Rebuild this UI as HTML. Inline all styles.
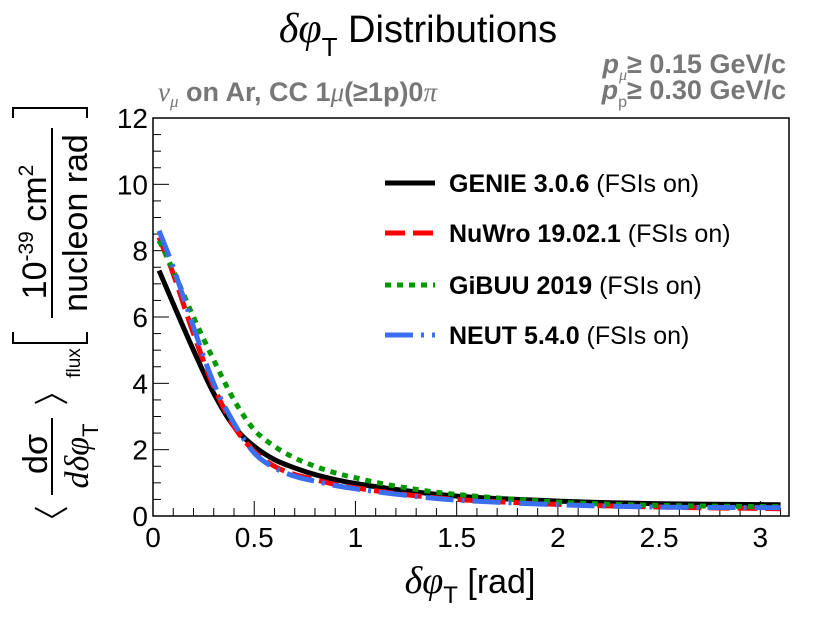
<!DOCTYPE html>
<html><head><meta charset="utf-8"><style>
body{margin:0;background:#fff}
svg{display:block;font-family:"Liberation Sans",sans-serif}
</style></head><body>
<svg id="c" width="830" height="620" viewBox="0 0 830 620">
<text x="418" y="42" text-anchor="middle" font-size="38"><tspan font-family="Liberation Serif" font-style="italic" font-size="42">δφ</tspan><tspan font-size="26" dy="14">T</tspan><tspan dy="-14"> Distributions</tspan></text>
<text x="158" y="101" font-size="27" font-weight="bold" fill="#777"><tspan font-family="Liberation Serif" font-style="italic" font-weight="normal">ν</tspan><tspan font-size="17" dy="6" font-family="Liberation Serif" font-style="italic" font-weight="normal">μ</tspan><tspan dy="-6"> on Ar, CC 1</tspan><tspan font-family="Liberation Serif" font-style="italic" font-weight="normal">μ</tspan><tspan>(≥1p)0</tspan><tspan font-family="Liberation Serif" font-style="italic" font-weight="normal">π</tspan></text>
<text x="786" y="73" text-anchor="end" font-size="27" font-weight="bold" fill="#777"><tspan font-style="italic">p</tspan><tspan font-size="16" dy="7" font-family="Liberation Serif" font-style="italic" font-weight="normal">μ</tspan><tspan dy="-7">≥ 0.15 GeV/c</tspan></text>
<text x="786" y="99" text-anchor="end" font-size="27" font-weight="bold" fill="#777"><tspan font-style="italic">p</tspan><tspan font-size="16" dy="8" font-weight="normal">p</tspan><tspan dy="-8">≥ 0.30 GeV/c</tspan></text>
<g id="axes"></g>
<g id="series"></g>
<g>
<polyline points="35,508 52,517 67,508" fill="none" stroke="#000" stroke-width="2"/>
<polyline points="35,403 52,395 67,403" fill="none" stroke="#000" stroke-width="2"/>
<line x1="52" y1="418" x2="52" y2="495" stroke="#000" stroke-width="2"/>
<polyline points="13,332 13,343 87,343 87,332" fill="none" stroke="#000" stroke-width="2"/>
<polyline points="13,118 13,108 87,108 87,118" fill="none" stroke="#000" stroke-width="2"/>
<line x1="52" y1="128" x2="52" y2="318" stroke="#000" stroke-width="2"/>
<g transform="rotate(-90)" font-size="34">
<text x="-454" y="47" text-anchor="middle">dσ</text>
<text x="-456" y="88" text-anchor="middle"><tspan font-family="Liberation Serif" font-style="italic">dδφ</tspan><tspan font-size="22" dy="10">T</tspan></text>
<text x="-363" y="80" text-anchor="middle" font-size="19">flux</text>
<text x="-232" y="46" text-anchor="middle">10<tspan font-size="21" dy="-13">-39</tspan><tspan dy="13"> cm</tspan><tspan font-size="21" dy="-13">2</tspan></text>
<text x="-223" y="87" text-anchor="middle">nucleon rad</text>
</g>
</g>
<text x="470" y="593" text-anchor="middle" font-size="34"><tspan font-family="Liberation Serif" font-style="italic" font-size="38">δφ</tspan><tspan font-size="24" dy="10">T</tspan><tspan dy="-10"> [rad]</tspan></text>
<g id="legend"></g>
</svg>
<script>
const xCats=[0.03,0.1,0.2,0.3,0.4,0.5,0.6,0.7,0.8,0.9,1.0,1.2,1.5,2.0,2.5,3.1];
const genie=[7.4,6.4,5.0,3.7,2.7,2.1,1.7,1.45,1.25,1.1,0.98,0.8,0.6,0.45,0.37,0.34];
const nuwro=[8.4,7.3,5.5,3.9,2.7,1.95,1.5,1.25,1.1,0.95,0.85,0.68,0.5,0.35,0.27,0.22];
const gibuu=[8.3,7.4,6.0,4.7,3.5,2.6,2.1,1.75,1.5,1.3,1.15,0.9,0.65,0.42,0.32,0.28];
const neut=[8.6,7.5,5.7,4.0,2.8,1.9,1.45,1.2,1.05,0.92,0.82,0.66,0.48,0.34,0.27,0.25];
const xTicks=[0,0.5,1,1.5,2,2.5,3];
const xTickLabels=["0","0.5","1","1.5","2","2.5","3"];
const yTicks=[0,2,4,6,8,10,12];
const yTickLabels=["0","2","4","6","8","10","12"];
const seriesNames=["GENIE 3.0.6","NuWro 19.02.1","GiBUU 2019","NEUT 5.4.0"];
const X0=153,X1=789,Y0=516,Y1=118,XMAX=Math.PI,YMAX=12;
const sx=v=>X0+v/XMAX*(X1-X0), sy=v=>Y0-v/YMAX*(Y0-Y1);
const NS="http://www.w3.org/2000/svg";
function mk(t,a,p){const e=document.createElementNS(NS,t);for(const k in a)e.setAttribute(k,a[k]);p.appendChild(e);return e;}
const ax=document.getElementById('axes');
const fr=mk('rect',{x:X0,y:Y1,width:X1-X0,height:Y0-Y1,fill:'none',stroke:'#000','stroke-width':1.5},ax);


for(let v=0;v<=XMAX;v+=0.1){const big=Math.abs(v/0.5-Math.round(v/0.5))<1e-6;mk('line',{x1:sx(v),x2:sx(v),y1:Y0,y2:Y0-(big?15:8),stroke:'#000','stroke-width':1},ax);}
for(let v=0;v<=12.001;v+=0.5){const big=Math.abs(v/2-Math.round(v/2))<1e-6;mk('line',{x1:X0,x2:X0+(big?16:8),y1:sy(v),y2:sy(v),stroke:'#000','stroke-width':1},ax);}
xTicks.forEach((v,i)=>{const t=mk('text',{x:sx(v),y:Y0+31,'text-anchor':'middle','font-size':28},ax);t.textContent=xTickLabels[i];

});
yTicks.forEach((v,i)=>{const t=mk('text',{x:X0-5,y:sy(v)+10,'text-anchor':'end','font-size':28},ax);t.textContent=yTickLabels[i];

});
const styles=[{c:'#000',d:'',w:5},{c:'#f00',d:'20,8',w:5},{c:'#090',d:'6,6',w:5},{c:'#3a6ff0',d:'28,8,3,8',w:5}];
const data=[genie,nuwro,gibuu,neut];
const sg=document.getElementById('series');
data.forEach((arr,i)=>{const pts=arr.map((v,j)=>[sx(xCats[j]),sy(v)]);
let d='M'+pts[0];for(let j=1;j<pts.length;j++){const p0=pts[j-2]||pts[j-1],p1=pts[j-1],p2=pts[j],p3=pts[j+1]||p2;
d+=` C${p1[0]+(p2[0]-p0[0])/6},${p1[1]+(p2[1]-p0[1])/6} ${p2[0]-(p3[0]-p1[0])/6},${p2[1]-(p3[1]-p1[1])/6} ${p2[0]},${p2[1]}`;}
const p=mk('path',{d:d,fill:'none',stroke:styles[i].c,'stroke-width':styles[i].w,'stroke-dasharray':styles[i].d},sg);

});
const lg=document.getElementById('legend');
const ly=[183,233,285,335];
seriesNames.forEach((n,i)=>{const g=mk('g',{},lg);


mk('line',{x1:385,x2:435,y1:ly[i],y2:ly[i],stroke:styles[i].c,'stroke-width':5,'stroke-dasharray':styles[i].d},g);
const t=mk('text',{x:449,y:ly[i]+9,'font-size':25},g);
const b=mk('tspan',{'font-weight':'bold'},t);b.textContent=n;
const s=mk('tspan',{},t);s.textContent=' (FSIs on)';});
</script>
</body></html>
